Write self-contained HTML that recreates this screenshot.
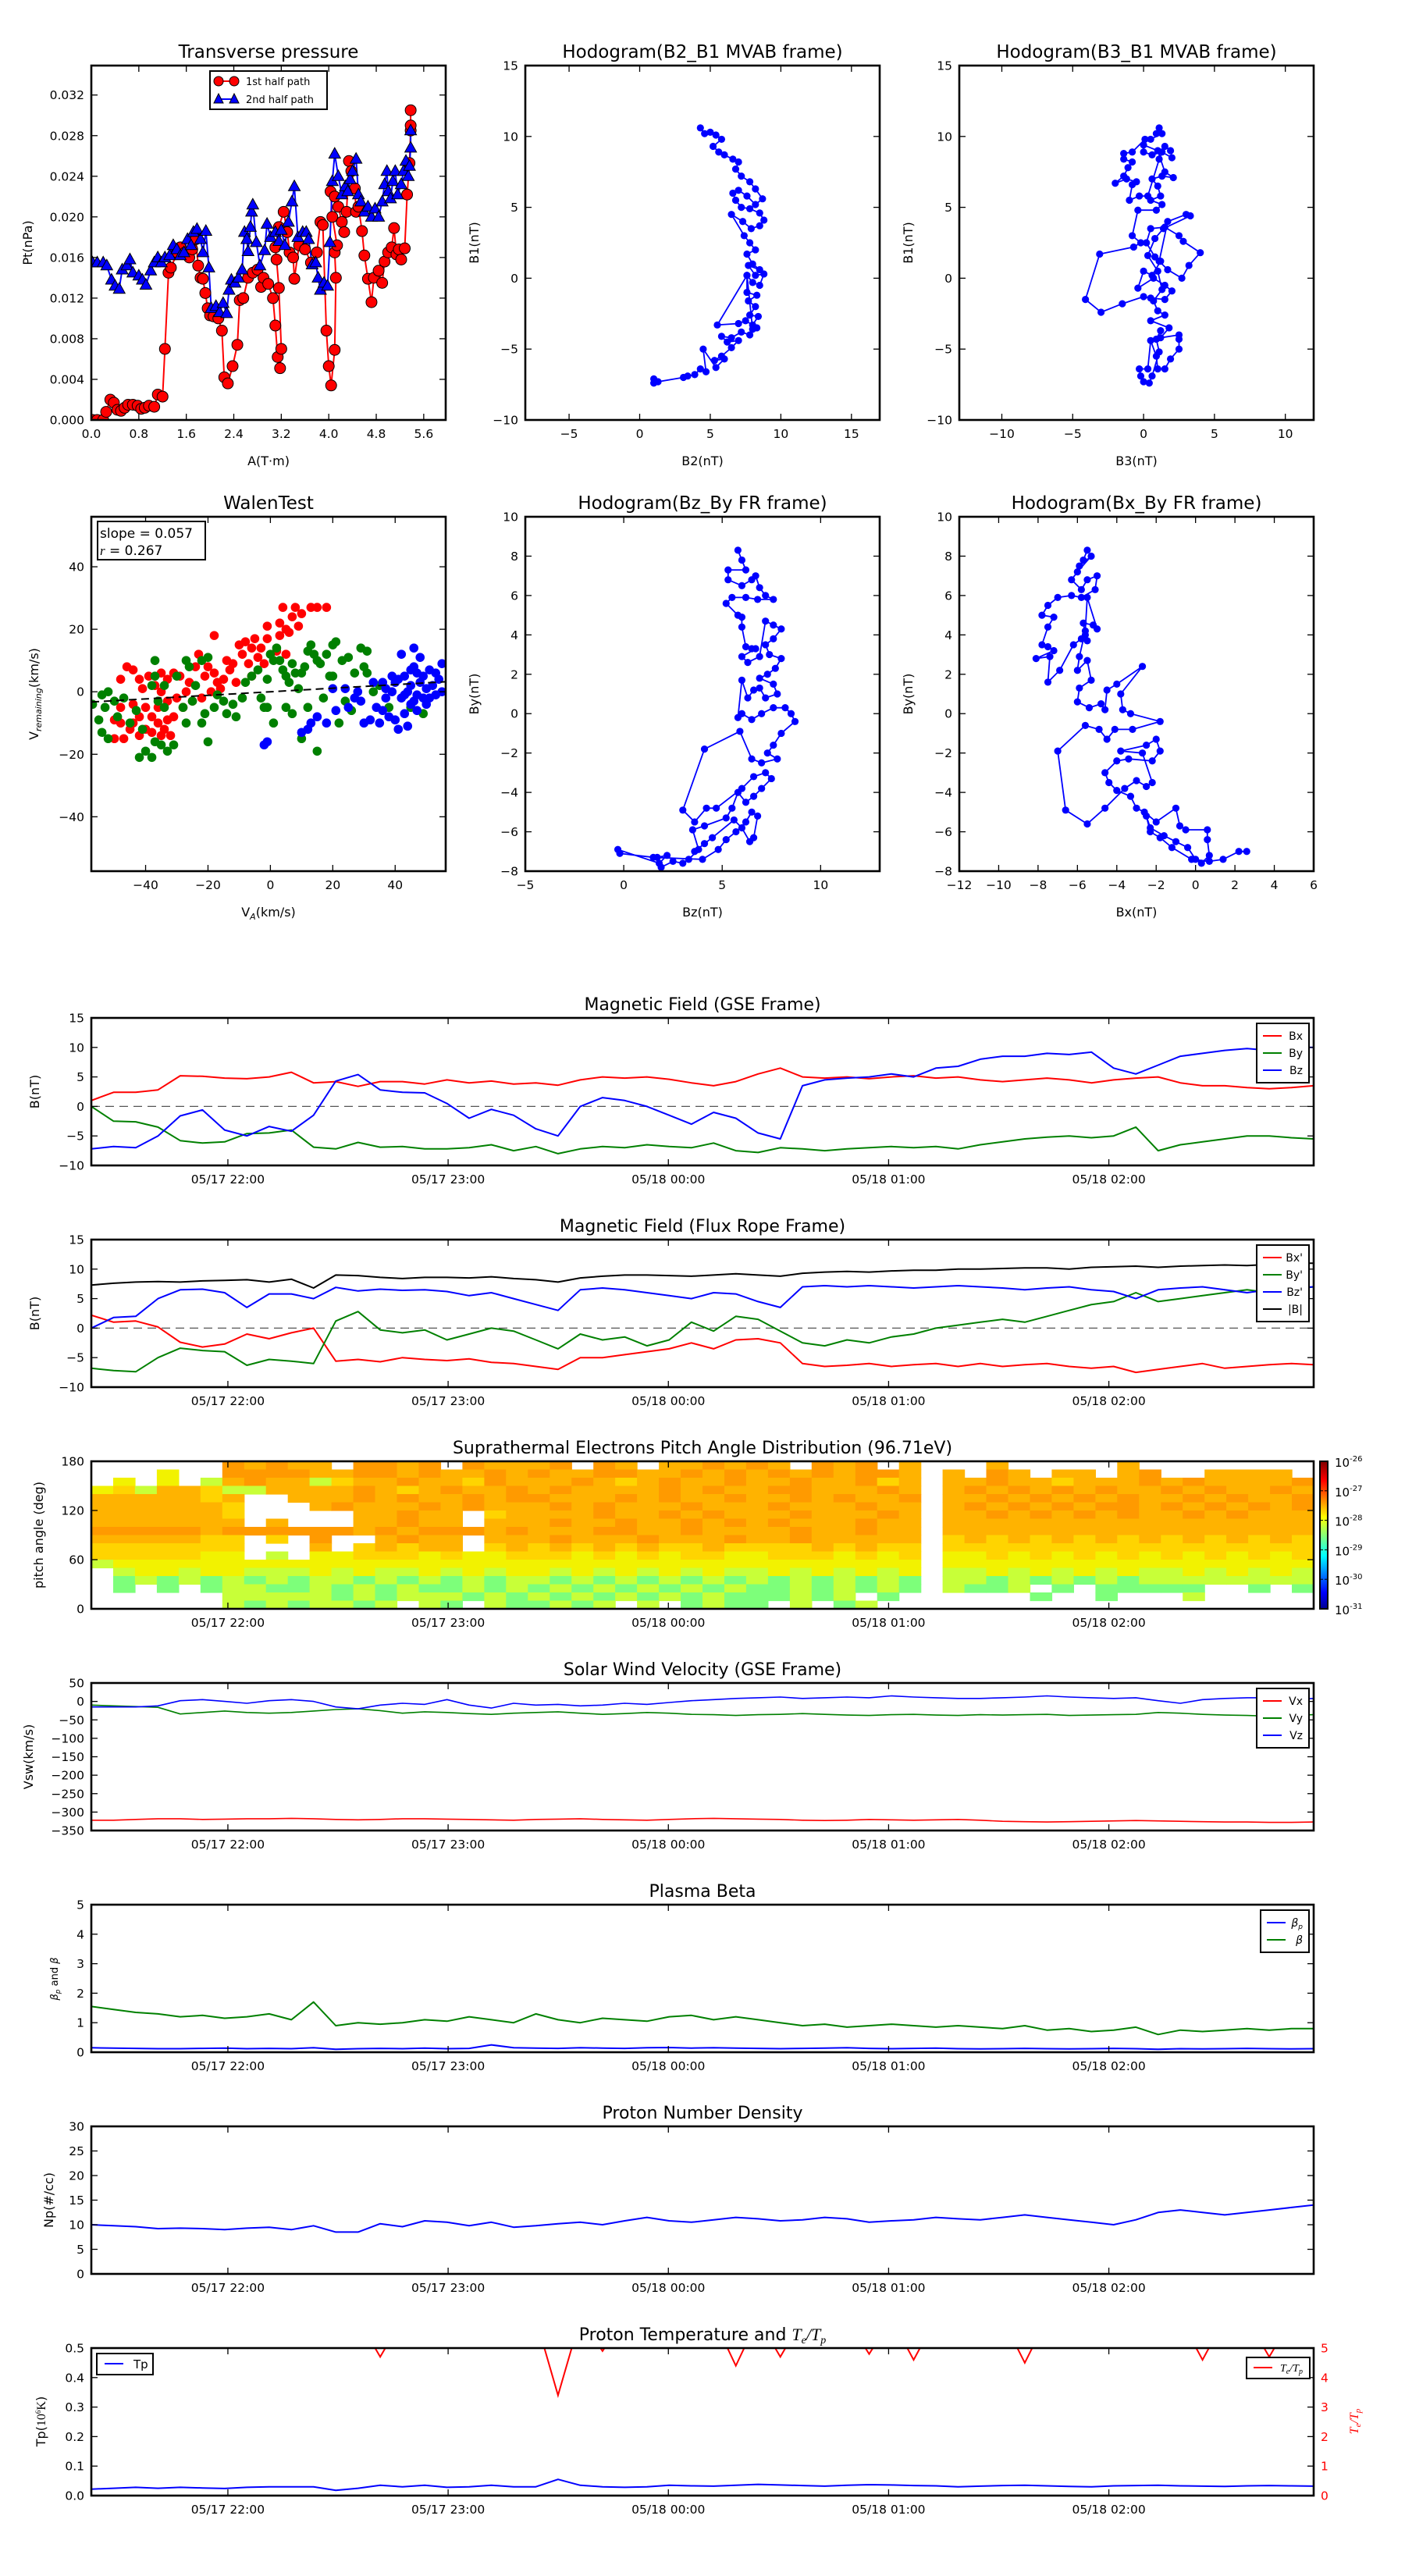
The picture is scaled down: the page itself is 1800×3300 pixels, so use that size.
<!DOCTYPE html>
<html><head><meta charset="utf-8"><title>Flux rope analysis</title>
<style>
html,body{margin:0;padding:0;background:#fff;}
svg{display:block;font-family:"DejaVu Sans","Liberation Sans",sans-serif;}
</style></head>
<body>
<svg id="fig" xmlns="http://www.w3.org/2000/svg" width="1800" height="3300" viewBox="0 0 1800 3300">
<defs>
<linearGradient id="jet" x1="0" y1="1" x2="0" y2="0">
<stop offset="0" stop-color="#00008f"/><stop offset="0.11" stop-color="#0000ff"/><stop offset="0.36" stop-color="#00ffff"/><stop offset="0.62" stop-color="#ffff00"/><stop offset="0.87" stop-color="#ff0000"/><stop offset="1" stop-color="#800000"/>
</linearGradient>
</defs>
</svg>
<script>
// ---------------- DATA ----------------
const ptA1=[0.02,0.1,0.2,0.25,0.32,0.38,0.44,0.5,0.56,0.62,0.7,0.78,0.84,0.9,0.97,1.06,1.12,1.2,1.24,1.3,1.34,1.45,1.5,1.58,1.65,1.7,1.76,1.8,1.84,1.88,1.92,1.96,2.0,2.06,2.14,2.2,2.24,2.3,2.38,2.46,2.5,2.56,2.64,2.72,2.8,2.86,2.9,2.98,3.06,3.1,3.14,3.18,3.2,3.16,3.12,3.1,3.16,3.24,3.3,3.34,3.4,3.42,3.5,3.6,3.7,3.8,3.86,3.9,3.96,4.0,4.04,4.1,4.12,4.1,4.14,4.06,4.03,4.1,4.16,4.22,4.26,4.3,4.34,4.38,4.44,4.46,4.5,4.56,4.6,4.66,4.72,4.76,4.84,4.9,4.94,5.0,5.06,5.1,5.14,5.18,5.22,5.28,5.32,5.36,5.38,5.38,5.38];
const ptP1=[0,0,0,0.0008,0.002,0.0017,0.001,0.0009,0.0012,0.0015,0.0015,0.0014,0.0011,0.0012,0.0014,0.0013,0.0025,0.0023,0.007,0.0145,0.015,0.0165,0.017,0.0165,0.016,0.0168,0.0178,0.0152,0.014,0.0139,0.0125,0.011,0.0103,0.0102,0.01,0.0088,0.0042,0.0036,0.0053,0.0074,0.0118,0.012,0.014,0.0145,0.0148,0.0131,0.014,0.0134,0.012,0.0093,0.0062,0.0051,0.007,0.013,0.0158,0.017,0.019,0.0205,0.0185,0.0165,0.016,0.0139,0.0172,0.0168,0.0155,0.0165,0.0195,0.0192,0.0088,0.0053,0.0034,0.0069,0.014,0.0165,0.0172,0.02,0.0225,0.022,0.021,0.0195,0.0185,0.0205,0.0255,0.0245,0.0228,0.0205,0.021,0.0186,0.0162,0.0139,0.0116,0.014,0.0147,0.0135,0.0156,0.0165,0.017,0.0189,0.0163,0.0168,0.0158,0.0169,0.0222,0.0253,0.0285,0.029,0.0305];
const ptA2=[0.02,0.1,0.2,0.26,0.34,0.4,0.47,0.52,0.6,0.65,0.7,0.8,0.86,0.92,1.0,1.06,1.12,1.18,1.24,1.32,1.38,1.44,1.5,1.56,1.62,1.68,1.72,1.78,1.84,1.88,1.93,1.98,2.02,2.1,2.16,2.22,2.28,2.32,2.36,2.42,2.48,2.54,2.58,2.62,2.64,2.68,2.7,2.72,2.78,2.84,2.92,2.96,3.02,3.1,3.16,3.2,3.26,3.32,3.38,3.42,3.48,3.56,3.62,3.66,3.72,3.78,3.82,3.86,3.92,3.98,4.02,4.06,4.1,4.16,4.22,4.28,4.32,4.36,4.4,4.46,4.5,4.54,4.6,4.66,4.72,4.78,4.84,4.9,4.94,4.98,5.0,5.04,5.08,5.12,5.16,5.22,5.26,5.3,5.34,5.36,5.38,5.38];
const ptP2=[0.0155,0.0155,0.0155,0.0152,0.0138,0.0132,0.0129,0.0148,0.0152,0.0158,0.0145,0.0142,0.0138,0.0133,0.0147,0.0155,0.016,0.0155,0.016,0.0162,0.0172,0.0168,0.0162,0.0165,0.0178,0.0172,0.0185,0.0188,0.0178,0.0165,0.0186,0.015,0.011,0.0112,0.0106,0.0115,0.0105,0.0128,0.0138,0.0135,0.014,0.0148,0.0185,0.0178,0.0166,0.019,0.0205,0.0212,0.0175,0.0152,0.0167,0.0193,0.018,0.0185,0.0176,0.0187,0.0172,0.0195,0.0215,0.023,0.018,0.0185,0.0185,0.0178,0.0153,0.0155,0.014,0.0128,0.0135,0.0132,0.0175,0.0235,0.0262,0.024,0.0222,0.023,0.0225,0.0237,0.0245,0.0257,0.0222,0.0215,0.0205,0.021,0.02,0.0208,0.02,0.0215,0.0232,0.0245,0.0225,0.0218,0.0235,0.0245,0.0222,0.0232,0.0245,0.0255,0.024,0.025,0.0268,0.0285];
const h1B2=[4.3,4.6,5,5.4,5.8,5.2,5.6,6,6.6,7,6.8,7.2,7.8,8.2,8.7,8.2,7.6,7,6.6,6.8,7.2,7.8,8.5,8.8,8.5,7.9,7.3,6.5,7.4,7.8,8.2,7.6,8.0,8.5,7.7,8.2,8.8,8.5,8.0,7.6,7.6,8.3,7.7,8.2,7.8,8.4,8.0,7.5,7.0,5.5,7.6,8.0,8.3,7.8,7.2,6.5,5.8,6.2,7.0,6.5,5.8,5.3,6.0,5.4,4.5,4.7,4.3,3.9,3.4,3.1,1.3,1.0,1.0];
const h1B1=[10.6,10.2,10.3,10.1,9.8,9.3,8.9,8.7,8.4,8.2,7.7,7.2,6.8,6.3,5.6,5.2,5.8,6.2,6.0,5.5,5.0,4.9,4.6,4.1,3.7,3.5,4.0,4.5,3.0,2.5,2.0,1.7,1.0,0.6,0.9,0.2,0.3,-0.5,-0.3,0.2,-1.0,-1.2,-1.6,-2.0,-2.6,-2.7,-3.3,-3.0,-3.2,-3.3,0.2,-3.6,-3.5,-4.0,-3.8,-4.2,-4.1,-4.5,-4.4,-4.9,-5.5,-5.8,-5.7,-6.3,-5.0,-6.6,-6.4,-6.8,-6.9,-7.0,-7.3,-7.1,-7.4];
const h2B3=[1.1,0.9,1.3,0.5,0.1,-0.8,-1.4,-1.4,-0.8,-1.1,-1.4,-2,-1.2,-0.5,-0.8,-1,-0.3,0.3,1.1,1.5,1.9,2.0,1.3,0.6,0,0,1.0,1.5,2.1,1.3,0.6,1.0,1.2,0.5,1.3,0.9,-0.4,-0.8,-0.2,-0.7,-3.1,-4.1,-3,-1.5,0,0.5,1.5,2,1.5,0.7,-0.4,0,0.6,1.2,0.8,0.2,0.5,1.5,2.5,2.8,4,3.2,2.7,1.7,1.1,1.7,3.0,3.3,1.4,0.8,0.3,1.0,1.3,0.7,1.0,1.5,0.5,1.8,1.2,2.5,2.5,2.5,1.9,1.5,1.0,0.9,0.5,0.3,-0.3,-0.2,0,0.4,0.6,1.1,0.9,1.2];
const h2B1=[10.6,10.2,10.2,9.8,9.8,8.9,8.8,8.4,8.2,7.8,7.2,6.7,7.0,6.8,6.6,5.5,5.8,5.8,8.4,9.3,9.0,8.5,8.9,8.7,8.9,9.4,9.0,7.5,7.1,7.2,7.0,6.5,5.8,5.5,5.2,4.8,4.8,3.0,2.5,2.2,1.7,-1.5,-2.4,-1.8,-1.3,-1.4,-1.5,-0.9,-0.5,0,-0.7,0.5,0.2,1.2,1.5,2.5,3.5,3.6,3.0,2.6,1.8,0.9,0,0.6,1.2,4.0,4.5,4.4,3.5,2.8,1.6,0.5,-0.8,-1.6,-2.3,-2.6,-3.0,-3.5,-4.2,-4.0,-4.3,-5.0,-5.7,-6.4,-6.4,-5.5,-4.4,-6.4,-6.4,-6.9,-7.3,-7.4,-6.9,-5.2,-4.3,-3.7];
const walRedVA=[-50,-47,-45,-48,-44,-42,-40,-38,-36,-34,-33,-35,-32,-31,-38,-40,-36,-33,-35,-37,-33,-31,-35,-39,-42,-44,-46,-48,-41,-44,-48,-50,-42,-30,-27,-26,-24,-23,-21,-20,-18,-17,-19,-22,-25,-15,-13,-12,-10,-9,-8,-6,-5,-7,-4,-11,-18,-3,-2,-1,-1,2,3,3,4,5,6,7,8,9,10,13,15,18,5,-6,-14,-16,-28,-29];
const walRedVR=[-15,-15,-12,-10,-10,-8,-12,-13,-10,-12,-9,-14,-14,-8,-8,-5,-5,-3,0,2,4,6,6,5,4,7,8,4,1,-4,-5,-9,-14,-2,0,3,8,12,5,8,6,3,0,-2,-3,4,7,9,15,12,16,14,17,9,11,3,18,14,9,17,21,13,18,22,27,20,19,24,27,21,25,27,27,27,12,5,10,1,-5,5];
const walGrnVA=[-57,-54,-52,-50,-53,-55,-54,-52,-49,-47,-45,-43,-41,-42,-40,-38,-37,-35,-33,-31,-34,-36,-38,-37,-37,-34,-30,-28,-27,-25,-24,-26,-27,-22,-20,-21,-20,-22,-18,-17,-15,-14,-12,-11,-9,-8,-6,-4,-3,-2,-1,0,1,2,3,4,5,6,7,8,9,10,11,12,13,14,15,16,18,20,21,19,17,15,12,10,7,5,1,-1,22,23,25,27,29,31,30,31,26,24,33,38,45,49,35,20];
const walGrnVR=[-4,-1,0,-3,-5,-9,-13,-15,-8,-2,-10,-6,-12,-21,-19,-21,-16,-17,-19,-17,-5,-3,2,10,5,2,5,-5,-10,-3,2,8,10,10,11,-7,-16,-10,-5,-1,-3,-7,-4,-8,-2,3,5,7,-2,-5,4,12,10,14,10,7,5,3,9,6,1,6,8,13,15,12,10,9,12,15,16,5,-2,-19,-5,-15,-7,-5,-10,-5,-10,10,11,6,14,13,8,6,-6,-3,0,-5,-5,-7,2,5];
const walBluVA=[-2,-1,10,12,13,15,18,20,21,24,25,27,28,29,30,32,33,34,35,36,37,38,39,40,40,41,42,42,43,43,44,44,45,45,46,46,46,47,47,48,48,49,49,50,50,51,52,53,54,55,55,53,41,39,37,43,45,47,51,36];
const walBluVR=[-17,-16,-13,-12,-10,-8,-10,1,-6,1,-5,-2,0,-3,-10,-9,3,-5,-10,-6,-2,-8,0,-9,3,-12,12,-2,5,-7,-11,0,2,-4,14,8,-3,6,-1,11,3,-2,5,1,-4,7,2,-1,4,9,0,6,4,5,1,-1,7,-6,-2,3];
const walenSlope=0.057;
const h3Bz=[5.8,6,6.2,5.3,5.3,6,6.5,6.7,6.9,7.2,7.6,6.8,6.2,5.5,5.2,5.8,6,6,6.2,6.5,6.7,6.0,6.3,6.9,7.2,7.6,8,7.6,7.2,7.4,8,7.7,7.3,6.9,7.6,7.8,7.2,6.9,6.6,6.3,6.0,5.8,6.0,6.5,7.0,7.6,8.2,8.5,8.7,8,7.6,7.3,7.8,7.0,6.5,5.9,4.1,3.0,3.6,4.2,4.7,6,6.6,7.2,7.5,7.0,6.6,6.2,5.8,5.5,5.2,4.1,3.5,3.8,3.3,3.0,2.5,1.9,1.7,2.2,1.8,-0.3,-0.2,1.5,4.0,4.8,5.2,5.7,6.2,6.5,6.8,6.6,6.4,6.0,5.6,4.5,4.1,3.6];
const h3By=[8.3,7.8,7.3,7.3,6.8,6.5,6.8,7.0,6.4,6.0,5.8,5.8,5.9,5.9,5.6,5,4.9,4.4,3.4,3.3,3.3,2.9,2.6,2.9,4.7,4.5,4.3,3.8,3.5,3.0,2.8,2.3,2.0,1.8,1.5,1.0,0.8,1.3,1.2,0.8,1.7,-0.2,0,-0.3,0,0.3,0.3,0,-0.4,-1,-1.6,-2,-2.3,-2.5,-2.3,-0.9,-1.8,-4.9,-5.5,-4.8,-4.8,-3.8,-3.2,-3.0,-3.3,-3.8,-4.2,-4.5,-4.0,-4.8,-5.3,-5.7,-5.9,-6.9,-7.4,-7.6,-7.5,-7.8,-7.3,-7.2,-7.6,-6.9,-7.1,-7.3,-7.4,-6.9,-6.4,-6.0,-5.5,-5.0,-5.2,-6.3,-6.5,-5.8,-5.4,-6.3,-6.6,-7];
const h4Bx=[-5.5,-5.7,-5.9,-5.3,-6.0,-6.3,-5.8,-5.5,-5.0,-5.1,-5.8,-6.3,-7.0,-7.5,-7.8,-7.2,-7.5,-7.8,-7.5,-7.2,-8.1,-7.4,-7.5,-6.9,-6.2,-5.8,-5.5,-5.6,-5.7,-5.2,-5.0,-5.5,-5.6,-5.9,-6.0,-5.5,-5.3,-5.9,-6.0,-5.4,-4.8,-4.6,-4.5,-4.0,-2.7,-3.8,-3.7,-3.3,-1.8,-3.2,-4.1,-4.5,-4.9,-5.6,-7.0,-6.6,-5.5,-4.6,-3.6,-3.0,-2.5,-2.2,-2.7,-3.8,-2.5,-2,-1.8,-2.2,-3.4,-4.0,-4.6,-4.4,-4.0,-3.3,-3.0,-2.6,-2.0,-1.0,-0.8,-0.5,0.6,0.6,0.7,0.3,0,-0.4,-1.0,-1.6,-2.3,-2.5,-2.3,-1.8,-1.2,-0.2,0.7,1.4,2.2,2.6];
const h4By=[8.3,7.8,7.5,8.0,7.2,6.8,6.3,6.8,7.0,6.3,5.9,6.0,5.9,5.5,5.0,4.9,4.4,3.5,3.4,3.2,2.8,2.9,1.6,2.2,3.5,3.8,3.7,4.0,4.6,4.5,4.3,5.9,4.2,2.9,2.2,2.7,1.7,1.3,0.6,0.3,0.5,0.2,1.2,1.5,2.4,1.0,0.2,0,-0.4,-0.8,-0.8,-1.3,-0.8,-0.6,-1.9,-4.9,-5.6,-4.8,-3.8,-3.4,-3.7,-3.5,-2.0,-1.9,-1.6,-1.3,-1.9,-2.4,-2.3,-2.4,-3.0,-3.5,-3.9,-4.2,-4.8,-5.0,-5.5,-4.8,-5.7,-5.9,-5.9,-6.4,-7.2,-7.6,-7.4,-6.8,-6.5,-6.2,-5.8,-5.2,-6.0,-6.3,-6.8,-7.4,-7.5,-7.4,-7.0,-7.0];
const timeStart=-0.62, timeEnd=4.93;
const timeTickVals=[0,1,2,3,4];
const timeTickLabels=["05/17 22:00","05/17 23:00","05/18 00:00","05/18 01:00","05/18 02:00"];
const gseBx=[1,2.4,2.4,2.8,5.2,5.1,4.8,4.7,5.0,5.8,4.0,4.2,3.4,4.2,4.2,3.8,4.5,4.0,4.3,3.8,4.0,3.6,4.5,5.0,4.8,5.0,4.6,4.0,3.5,4.2,5.5,6.5,5.0,4.8,5.0,4.7,5.0,5.2,4.8,5.0,4.5,4.2,4.5,4.8,4.5,4.0,4.5,4.8,5.0,4.0,3.5,3.5,3.2,3.0,3.2,3.5];
const gseBy=[0,-2.5,-2.6,-3.5,-5.8,-6.2,-6.0,-4.6,-4.5,-4.0,-6.9,-7.2,-6.1,-6.9,-6.8,-7.2,-7.2,-7.0,-6.5,-7.5,-6.8,-8.0,-7.2,-6.8,-7.0,-6.5,-6.8,-7.0,-6.2,-7.5,-7.8,-7.0,-7.2,-7.5,-7.2,-7.0,-6.8,-7.0,-6.8,-7.2,-6.5,-6.0,-5.5,-5.2,-5.0,-5.3,-5.0,-3.5,-7.5,-6.5,-6.0,-5.5,-5.0,-5.0,-5.3,-5.5];
const gseBz=[-7.2,-6.8,-7.0,-5.0,-1.6,-0.6,-4.0,-5.0,-3.4,-4.2,-1.5,4.3,5.4,2.8,2.4,2.3,0.5,-2,-0.5,-1.5,-3.8,-5,0,1.5,1,0,-1.5,-3,-1,-2,-4.5,-5.5,3.5,4.5,4.8,5.0,5.5,5.0,6.5,6.8,8.0,8.5,8.5,9.0,8.8,9.2,6.5,5.5,7.0,8.5,9.0,9.5,9.8,9.5,10,10];
const frBx=[2.2,1.0,1.2,0.2,-2.4,-3.2,-2.7,-1.0,-1.8,-0.8,0.0,-5.6,-5.3,-5.7,-5.0,-5.3,-5.5,-5.2,-5.8,-6.0,-6.5,-7.0,-5.0,-5.0,-4.5,-4.0,-3.5,-2.5,-3.5,-2.0,-1.8,-2.5,-6.0,-6.5,-6.3,-6.0,-6.5,-6.2,-6.0,-6.5,-6.0,-6.5,-6.2,-6.0,-6.5,-6.8,-6.5,-7.5,-7.0,-6.5,-6.0,-6.8,-6.5,-6.2,-6.0,-6.2];
const frBy=[-6.8,-7.2,-7.4,-5.0,-3.4,-3.8,-4.0,-6.3,-5.3,-5.6,-6.0,1.2,2.8,-0.3,-0.8,-0.3,-2.0,-1.0,0.0,-0.5,-2.0,-3.5,-1.0,-2.0,-1.5,-3.0,-2.0,1.0,-0.5,2.0,1.5,-0.5,-2.5,-3.0,-2.0,-2.5,-1.5,-1.0,0.0,0.5,1.0,1.5,1.0,2.0,3.0,4.0,4.5,6.0,4.5,5.0,5.5,6.0,6.5,6.0,6.5,7.0];
const frBz=[0,1.8,2.0,5.0,6.5,6.6,6.0,3.5,5.8,5.8,5.0,6.9,6.3,6.6,6.4,6.5,6.2,5.5,6.0,5.0,4.0,3.0,6.5,6.8,6.5,6.0,5.5,5.0,6.0,5.8,4.5,3.5,7.0,7.2,7.0,7.2,7.0,6.8,7.0,7.2,7.0,6.8,6.5,6.8,7.0,6.5,6.2,5.0,6.5,6.8,7.0,6.5,6.0,6.5,6.8,7.0];
const frBt=[7.3,7.6,7.8,7.9,7.8,8.0,8.1,8.2,7.8,8.3,6.8,9.0,8.9,8.6,8.4,8.6,8.6,8.5,8.7,8.4,8.2,7.8,8.5,8.8,9.0,9.0,8.9,8.8,9.0,9.2,9.0,8.8,9.3,9.5,9.6,9.5,9.7,9.8,9.8,10.0,10.0,10.1,10.2,10.2,10.0,10.3,10.4,10.5,10.3,10.5,10.6,10.7,10.6,10.8,11.0,11.0];
// PAD rows, top (170-180 deg) to bottom (0-10 deg); segments of column widths 6,4,10,10,9,17; chars are colour levels
const padRows=[
["      ","7676","6 7767 766","67 76 6676","76 767 6 ","  6     6        "],
["   4  ","7777","6677676676","7667766767","67676776 ","6 76 66 67  6666 "],
[" 4 4 3","6766","3566766576","6676567667","66766756 ","66766566676766667"],
["453665","3366","6676567667","6766667676","67766676 ","67676767667676676"],
["666665","6  6","6676766767","7666767667","66767667 ","66767676766767667"],
["666666","5   ","6766676766","6767666766","67666766 ","67676767767676767"],
["666666","5   ","  66766 56","6667667676","66766676 ","66767676766767666"],
["666666","6 6 ","  66766 66","6766766767","67666766 ","66666666666666666"],
["777776","7777","7767677767","6667766766","66766766 ","66666666666666666"],
["666665","5 5 ","7  6766 66","6766676667","66766666 ","56565656565656565"],
["555555","5   ","6 56566 56","5656565565","55565655 ","55555555555555555"],
["555554","4 3 ","4455545445","5545454554","45554545 ","44545454545454545"],
["344444","4444","4444444444","4444444444","44444444 ","44444444444444444"],
[" 34434","4333","4343343434","4343434343","34343434 ","33434343433434343"],
[" 23232","3232","3323232323","3232323232","32323232 ","33232323233333333"],
[" 2 2 2","3322","3232322323","2323232323","22323232 ","3223 2 22222  2 2"],
["      ","3333","3232333232","3232323232","22323 2  ","    2  2   3     "],
["      ","3232","3323 32 32","2323 3 232","2 3 23   ","                 "]];
const padSegWidths=[6,4,10,10,9,17];
const padLevelColors={'2':'#7dff7a','3':'#c8ff38','4':'#f2f200','5':'#ffd400','6':'#ffb300','7':'#ff9a00'};
const cbarTickExps=[-26,-27,-28,-29,-30,-31];
const vswVx=[-322,-322,-320,-318,-318,-320,-319,-318,-318,-317,-318,-320,-321,-320,-318,-318,-319,-320,-321,-322,-320,-319,-318,-320,-321,-322,-320,-318,-317,-318,-319,-320,-322,-323,-322,-320,-321,-322,-321,-320,-322,-325,-326,-327,-326,-325,-324,-323,-324,-325,-326,-327,-327,-328,-328,-327];
const vswVy=[-10,-12,-14,-16,-34,-30,-26,-30,-32,-30,-26,-22,-20,-25,-32,-28,-30,-33,-35,-32,-30,-28,-32,-35,-33,-30,-32,-35,-36,-38,-36,-35,-33,-35,-37,-38,-36,-35,-37,-38,-36,-37,-36,-35,-38,-37,-36,-35,-30,-32,-35,-37,-38,-40,-38,-36];
const vswVz=[-15,-15,-15,-12,2,5,0,-5,2,5,0,-15,-20,-10,-5,-8,5,-10,-18,-5,-10,-8,-12,-10,-5,-8,-3,2,5,8,10,12,8,10,12,10,15,12,10,8,8,10,12,15,12,10,8,10,2,-5,5,8,10,10,5,8];
const betaP=[0.15,0.14,0.13,0.12,0.12,0.13,0.14,0.12,0.13,0.12,0.15,0.1,0.12,0.13,0.12,0.14,0.12,0.13,0.25,0.15,0.14,0.13,0.15,0.14,0.13,0.15,0.16,0.14,0.15,0.14,0.13,0.12,0.13,0.14,0.15,0.13,0.12,0.13,0.14,0.12,0.11,0.12,0.13,0.12,0.11,0.12,0.13,0.12,0.1,0.12,0.11,0.12,0.13,0.12,0.11,0.12];
const betaAll=[1.55,1.45,1.35,1.3,1.2,1.25,1.15,1.2,1.3,1.1,1.7,0.9,1.0,0.95,1.0,1.1,1.05,1.2,1.1,1.0,1.3,1.1,1.0,1.15,1.1,1.05,1.2,1.25,1.1,1.2,1.1,1.0,0.9,0.95,0.85,0.9,0.95,0.9,0.85,0.9,0.85,0.8,0.9,0.75,0.8,0.7,0.75,0.85,0.6,0.75,0.7,0.75,0.8,0.75,0.8,0.8];
const npDens=[10,9.8,9.6,9.2,9.3,9.2,9.0,9.3,9.5,9.0,9.8,8.5,8.5,10.2,9.6,10.8,10.5,9.8,10.5,9.5,9.8,10.2,10.5,10.0,10.8,11.5,10.8,10.5,11.0,11.5,11.2,10.8,11.0,11.5,11.2,10.5,10.8,11.0,11.5,11.2,11.0,11.5,12.0,11.5,11.0,10.5,10.0,11.0,12.5,13.0,12.5,12.0,12.5,13.0,13.5,14.0];
const tpTemp=[0.022,0.025,0.028,0.025,0.028,0.026,0.024,0.028,0.03,0.03,0.03,0.018,0.025,0.035,0.03,0.035,0.028,0.03,0.035,0.03,0.03,0.055,0.035,0.03,0.028,0.03,0.035,0.033,0.032,0.035,0.038,0.036,0.034,0.032,0.035,0.037,0.036,0.034,0.033,0.03,0.032,0.034,0.035,0.033,0.031,0.03,0.033,0.034,0.035,0.033,0.032,0.031,0.033,0.034,0.033,0.032];
const teTpRatio=[6,6,6,6,6,6,6,6,6,6,6,6,6,4.7,6,6,6,6,6,6,6,3.4,6,4.9,6,6,6,6,6,4.4,6,4.7,6,6,6,4.8,6,4.6,6,6,6,6,4.5,6,6,6,6,6,6,6,4.6,6,6,4.7,6,6];

// ---------------- DRAWING ----------------
const NS='http://www.w3.org/2000/svg';
const svg=document.getElementById('fig');
function mk(tag,attrs,parent){const e=document.createElementNS(NS,tag);for(const k in attrs)e.setAttribute(k,attrs[k]);(parent||svg).appendChild(e);return e;}
function fmtNum(v,d){const s=v.toFixed(d);return s.replace('-','\u2212');}
function txt(s,x,y,size,anchor,parent,extra){const t=mk('text',Object.assign({x:x,y:y,'font-size':size,'text-anchor':anchor||'middle',fill:'#000'},extra||{}),parent);t.textContent=s;return t;}

function axes(name,L,T,W,H,xd,yd,xt,xl,yt,yl,opt){
  opt=opt||{};
  const g=mk('g',{});
  
  
  const sx=v=>L+(v-xd[0])/(xd[1]-xd[0])*W;
  const sy=v=>T+H-(v-yd[0])/(yd[1]-yd[0])*H;
  const cp=mk('clipPath',{id:'clip-'+name},g);
  mk('rect',{x:L,y:T,width:W,height:H},cp);
  const plot=mk('g',{'clip-path':'url(#clip-'+name+')'},g);
  
  
  const tk=opt.tickSize||15.5;
  xt.forEach((v,i)=>{const x=sx(v);
    const a=mk('line',{x1:x,y1:T+H,x2:x,y2:T+H-8,stroke:'#000','stroke-width':1.3},g);
    
    
    const b=mk('line',{x1:x,y1:T,x2:x,y2:T+8,stroke:'#000','stroke-width':1.3},g);
    
    
    const t=txt(xl[i],x,T+H+23,tk,'middle',g);
    
    });
  yt.forEach((v,i)=>{const y=sy(v);
    const a=mk('line',{x1:L,y1:y,x2:L+8,y2:y,stroke:'#000','stroke-width':1.3},g);
    
    
    if(!opt.noRightTicks){const b=mk('line',{x1:L+W,y1:y,x2:L+W-8,y2:y,stroke:'#000','stroke-width':1.3},g);
    
    }
    const t=txt(yl[i],L-9,y+5.5,tk,'end',g);
    
    });
  const fr=mk('rect',{x:L,y:T,width:W,height:H,fill:'none',stroke:'#000','stroke-width':2.6},g);
  
  
  if(opt.title){const t=txt(opt.title,L+W/2,T-10,opt.titleSize||23,'middle',g);
    
    }
  if(opt.xlabel){const t=txt(opt.xlabel,L+W/2,T+H+58,16,'middle',g);
    
    }
  if(opt.ylabel){const yx=opt.ylabelX,yy=T+H/2;const t=txt(opt.ylabel,yx,yy,opt.ylabelSize||16,'middle',g,{transform:'rotate(-90 '+yx+' '+yy+')'});
    
    }
  return {g,plot,sx,sy};
}
function pathD(xs,ys,sx,sy){return xs.map((v,i)=>(i?'L':'M')+sx(v).toFixed(1)+' '+sy(ys[i]).toFixed(1)).join(' ');}
function range(a,b,s){const r=[];for(let v=a;v<=b+1e-9;v+=s)r.push(+v.toFixed(6));return r;}
function sampleTimes(n){const r=[];for(let i=0;i<n;i++)r.push(timeStart+i*(timeEnd-timeStart)/(n-1));return r;}

// ---- Transverse pressure ----
{
 const xt=range(0,5.6,0.8), yt=range(0,0.032,0.004);
 const A=axes('transverse-pressure',117,84,454,454,[0,5.97],[0,0.0349],xt,xt.map(v=>v.toFixed(1)),yt,yt.map(v=>v.toFixed(3)),{title:'Transverse pressure',xlabel:'A(T\u00b7m)',ylabel:'Pt(nPa)',ylabelX:41});
 const l1=mk('path',{d:pathD(ptA1,ptP1,A.sx,A.sy),fill:'none',stroke:'#ff0000','stroke-width':2},A.plot);
 
 
 const l2=mk('path',{d:pathD(ptA2,ptP2,A.sx,A.sy),fill:'none',stroke:'#0000ff','stroke-width':2},A.plot);
 
 
 ptA1.forEach((a,i)=>{const c=mk('circle',{cx:A.sx(a),cy:A.sy(ptP1[i]),r:7,fill:'#ff0000',stroke:'#000','stroke-width':1},A.plot);
  
  });
 ptA2.forEach((a,i)=>{const x=A.sx(a),y=A.sy(ptP2[i]);const p=mk('polygon',{points:`${x},${y-8} ${x-7.5},${y+5.5} ${x+7.5},${y+5.5}`,fill:'#0000ff',stroke:'#000','stroke-width':1},A.plot);
  
  });
 const lg=mk('g',{},A.g);
 
 
 mk('rect',{x:269,y:91,width:150,height:49,fill:'#fff',stroke:'#000','stroke-width':2},lg);
 mk('line',{x1:280,y1:104,x2:300,y2:104,stroke:'#ff0000','stroke-width':2},lg);
 mk('circle',{cx:280,cy:104,r:6,fill:'#ff0000',stroke:'#000'},lg);mk('circle',{cx:300,cy:104,r:6,fill:'#ff0000',stroke:'#000'},lg);
 txt('1st half path',315,109,13,'start',lg);
 mk('line',{x1:280,y1:127,x2:300,y2:127,stroke:'#0000ff','stroke-width':2},lg);
 mk('polygon',{points:'280,120 274,132 286,132',fill:'#0000ff',stroke:'#000'},lg);mk('polygon',{points:'300,120 294,132 306,132',fill:'#0000ff',stroke:'#000'},lg);
 txt('2nd half path',315,132,13,'start',lg);
}
function hodo(name,L,T,xd,yd,xt,yt,xs,ys,title,xlabel,ylabel){
 const A=axes(name,L,T,454,454,xd,yd,xt,xt.map(v=>fmtNum(v,0)),yt,yt.map(v=>fmtNum(v,0)),{title:title,xlabel:xlabel,ylabel:ylabel,ylabelX:L-60});
 const l=mk('path',{d:pathD(xs,ys,A.sx,A.sy),fill:'none',stroke:'#0000ff','stroke-width':1.8},A.plot);
 
 
 xs.forEach((v,i)=>{const c=mk('circle',{cx:A.sx(v),cy:A.sy(ys[i]),r:4.6,fill:'#0000ff'},A.plot);
  
  });
}
hodo('hodogram-b2-b1',673,84,[-8.1,17],[-10,15],range(-5,15,5),range(-10,15,5),h1B2,h1B1,'Hodogram(B2_B1 MVAB frame)','B2(nT)','B1(nT)');
hodo('hodogram-b3-b1',1229,84,[-13,12],[-10,15],range(-10,10,5),range(-10,15,5),h2B3,h2B1,'Hodogram(B3_B1 MVAB frame)','B3(nT)','B1(nT)');
hodo('hodogram-bz-by',673,662,[-5,13],[-8,10],range(-5,10,5),range(-8,10,2),h3Bz,h3By,'Hodogram(Bz_By FR frame)','Bz(nT)','By(nT)');
hodo('hodogram-bx-by',1229,662,[-12,6],[-8,10],range(-12,6,2),range(-8,10,2),h4Bx,h4By,'Hodogram(Bx_By FR frame)','Bx(nT)','By(nT)');

// ---- Walen test ----
{
 const xt=range(-40,40,20),yt=range(-40,40,20);
 const A=axes('walen-test',117,662,454,454,[-57.4,56.2],[-57.4,56],xt,xt.map(v=>fmtNum(v,0)),yt,yt.map(v=>fmtNum(v,0)),{title:'WalenTest'});
 [[walRedVA,walRedVR,'#ff0000','walen-red-point'],[walGrnVA,walGrnVR,'#008000','walen-green-point'],[walBluVA,walBluVR,'#0000ff','walen-blue-point']].forEach(s=>{
  s[0].forEach((v,i)=>{const c=mk('circle',{cx:A.sx(v),cy:A.sy(s[1][i]),r:5.8,fill:s[2]},A.plot);
   
   });});
 const fit=mk('line',{x1:A.sx(-57.4),y1:A.sy(-57.4*walenSlope),x2:A.sx(56.2),y2:A.sy(56.2*walenSlope),stroke:'#000','stroke-width':2,'stroke-dasharray':'10 6'},A.plot);
 
 
 const xl=mk('text',{x:344,y:1174,'font-size':16,'text-anchor':'middle'},A.g);
 
 
 xl.innerHTML='V<tspan font-size="11" font-style="italic" dy="4">A</tspan><tspan dy="-4">(km/s)</tspan>';
 const yl=mk('text',{x:49,y:889,'font-size':16,'text-anchor':'middle',transform:'rotate(-90 49 889)'},A.g);
 
 
 yl.innerHTML='V<tspan font-size="11" font-style="italic" dy="4">remaining</tspan><tspan dy="-4">(km/s)</tspan>';
 const bx=mk('g',{},A.g);
 
 
 mk('rect',{x:125,y:668,width:138,height:49,fill:'#fff',stroke:'#000','stroke-width':2},bx);
 txt('slope = '+walenSlope.toFixed(3),128,689,17,'start',bx);
 const r=mk('text',{x:128,y:711,'font-size':17},bx);r.innerHTML='<tspan font-style="italic" font-family="Liberation Serif,serif">r</tspan> = 0.267';
}

// ---- Time series panels ----
const TL=117,TW=1566,TH=189;
function tsAxes(name,T,yd,yt,yl,title,ylabel,ylx,opt){
 return axes(name,TL,T,TW,TH,[timeStart,timeEnd],yd,timeTickVals,timeTickLabels,yt,yl,Object.assign({title:title,titleSize:22,ylabel:ylabel,ylabelX:ylx},opt||{}));
}
function series(A,ys,color,name,w){
 const ts=sampleTimes(ys.length);
 const p=mk('path',{d:pathD(ts,ys,A.sx,A.sy),fill:'none',stroke:color,'stroke-width':w||2,'stroke-linejoin':'round'},A.plot);
 
 
 return p;
}
function zeroLine(A){const l=mk('line',{x1:TL,x2:TL+TW,y1:A.sy(0),y2:A.sy(0),stroke:'#555','stroke-width':1.3,'stroke-dasharray':'11 7'},A.plot);
 
 }
function legend(name,x,y,w,entries){
 const g=mk('g',{});
 
 
 mk('rect',{x:x,y:y,width:w,height:entries.length*22+10,fill:'#fff',stroke:'#000','stroke-width':2},g);
 entries.forEach((e,i)=>{const yy=y+16+i*22;
  mk('line',{x1:x+8,x2:x+32,y1:yy,y2:yy,stroke:e[1],'stroke-width':2},g);
  const t=mk('text',{x:x+w-8,y:yy+5,'font-size':14,'text-anchor':'end','font-style':e[2]?'italic':'normal',fill:'#000'},g);
  t.innerHTML=e[0];});
 return g;
}
const bT=range(-10,15,5), bL=bT.map(v=>fmtNum(v,0));
{
 const A=tsAxes('magnetic-field-gse',1304,[-10,15],bT,bL,'Magnetic Field (GSE Frame)','B(nT)',50);
 zeroLine(A);
 series(A,gseBx,'#ff0000','bx-gse-line');series(A,gseBy,'#008000','by-gse-line');series(A,gseBz,'#0000ff','bz-gse-line');
 legend('gse-legend',1610,1311,67,[['Bx','#ff0000'],['By','#008000'],['Bz','#0000ff']]);
}
{
 const A=tsAxes('magnetic-field-fr',1588,[-10,15],bT,bL,'Magnetic Field (Flux Rope Frame)','B(nT)',50);
 zeroLine(A);
 series(A,frBx,'#ff0000','bx-fr-line');series(A,frBy,'#008000','by-fr-line');series(A,frBz,'#0000ff','bz-fr-line');series(A,frBt,'#000000','btotal-fr-line');
 legend('fr-legend',1610,1595,67,[["Bx'",'#ff0000'],["By'",'#008000'],["Bz'",'#0000ff'],['|B|','#000']]);
}
{
 const yt=[0,60,120,180];
 const A=tsAxes('pitch-angle-distribution',1872,[0,180],yt,yt.map(String),'Suprathermal Electrons Pitch Angle Distribution (96.71eV)','pitch angle (deg)',55);
 const ncol=padSegWidths.reduce((a,b)=>a+b,0),dt=(timeEnd-timeStart)/ncol;
 padRows.forEach((segs,ri)=>{const row=segs.map((s,k)=>s.padEnd(padSegWidths[k],' ').slice(0,padSegWidths[k])).join('');
  const a0=180-(ri+1)*10;
  for(let c=0;c<ncol;c++){const ch=row[c];if(!padLevelColors[ch])continue;
   const x0=A.sx(timeStart+c*dt),x1=A.sx(timeStart+(c+1)*dt);
   const r=mk('rect',{x:x0.toFixed(1),y:A.sy(a0+10).toFixed(1),width:(x1-x0+0.6).toFixed(1),height:(A.sy(a0)-A.sy(a0+10)+0.6).toFixed(1),fill:padLevelColors[ch]},A.plot);
   
   }});
 const cb=mk('g',{});
 
 
 mk('rect',{x:1691,y:1872,width:10,height:189,fill:'url(#jet)',stroke:'#000','stroke-width':2},cb);
 cbarTickExps.forEach((e,i)=>{const y=1872+i*189/5;
  mk('line',{x1:1691,x2:1695,y1:y,y2:y,stroke:'#000'},cb);mk('line',{x1:1701,x2:1697,y1:y,y2:y,stroke:'#000'},cb);
  const t=mk('text',{x:1710,y:y+7,'font-size':15},cb);
  
  
  t.innerHTML='10<tspan font-size="10" dy="-7">'+String(e)+'</tspan>';});
}
{
 const yt=range(-350,50,50);
 const A=tsAxes('solar-wind-velocity',2156,[-350,50],yt,yt.map(v=>fmtNum(v,0)),'Solar Wind Velocity (GSE Frame)','Vsw(km/s)',42);
 series(A,vswVx,'#ff0000','vx-line',1.6);series(A,vswVy,'#008000','vy-line',1.6);series(A,vswVz,'#0000ff','vz-line',1.6);
 legend('velocity-legend',1610,2163,67,[['Vx','#ff0000'],['Vy','#008000'],['Vz','#0000ff']]);
}
{
 const yt=range(0,5,1);
 const A=tsAxes('plasma-beta',2440,[0,5],yt,yt.map(String),'Plasma Beta','',0);
 series(A,betaP,'#0000ff','beta-proton-line');series(A,betaAll,'#008000','beta-total-line');
 const yl=mk('text',{x:74,y:2535,'font-size':13,'text-anchor':'middle','font-style':'italic',transform:'rotate(-90 74 2535)'},A.g);
 
 
 yl.innerHTML='\u03b2<tspan font-size="9" dy="3">p</tspan><tspan dy="-3" font-style="normal"> and </tspan>\u03b2';
 legend('beta-legend',1615,2447,62,[['\u03b2<tspan font-size="9" dy="3">p</tspan>','#0000ff',1],['\u03b2','#008000',1]]);
}
{
 const yt=range(0,30,5);
 const A=tsAxes('proton-density',2724,[0,30],yt,yt.map(String),'Proton Number Density','Np(#/cc)',68);
 series(A,npDens,'#0000ff','proton-density-line');
}
{
 const yt=range(0,0.5,0.1);
 const A=tsAxes('proton-temperature',3008,[0,0.5],yt,yt.map(v=>v.toFixed(1)),'','',0,{noRightTicks:true});
 const tt=txt('',900,2998,22,'middle',A.g);
 
 
 tt.innerHTML='Proton Temperature and <tspan font-style="italic" font-family="Liberation Serif,serif">T<tspan font-size="14" dy="4">e</tspan><tspan dy="-4">/T</tspan><tspan font-size="14" dy="4">p</tspan></tspan>';
 series(A,tpTemp,'#0000ff','proton-temperature-line');
 const sy2=v=>3008+TH-v/5*TH;
 const ts=sampleTimes(teTpRatio.length);
 const rp=mk('path',{d:ts.map((t,i)=>(i?'L':'M')+A.sx(t).toFixed(1)+' '+sy2(teTpRatio[i]).toFixed(1)).join(' '),fill:'none',stroke:'#ff0000','stroke-width':2},A.plot);
 
 
 [0,1,2,3,4,5].forEach(v=>{const y=sy2(v);
  const l=mk('line',{x1:TL+TW,x2:TL+TW-8,y1:y,y2:y,stroke:'#000','stroke-width':1.3},A.g);
  
  
  const t=txt(String(v),TL+TW+9,y+5.5,15.5,'start',A.g,{fill:'#ff0000'});
  
  });
 const yl=mk('text',{x:58,y:3102,'font-size':16,'text-anchor':'middle',transform:'rotate(-90 58 3102)'},A.g);
 
 
 yl.innerHTML='Tp(<tspan font-family="Liberation Serif,serif">10<tspan font-size="9" dy="-6">6</tspan><tspan dy="6">K</tspan></tspan>)';
 const yr=mk('text',{x:1740,y:3102,'font-size':16,'text-anchor':'middle','font-style':'italic','font-family':'Liberation Serif,serif',fill:'#ff0000',transform:'rotate(-90 1740 3102)'},A.g);
 
 
 yr.innerHTML='T<tspan font-size="11" dy="3">e</tspan><tspan dy="-3">/T</tspan><tspan font-size="11" dy="3">p</tspan>';
 const lg1=mk('g',{});
 
 
 mk('rect',{x:124,y:3015,width:72,height:27,fill:'#fff',stroke:'#000','stroke-width':2},lg1);
 mk('line',{x1:134,x2:158,y1:3028,y2:3028,stroke:'#0000ff','stroke-width':2},lg1);
 txt('Tp',171,3034,15,'start',lg1);
 const lg2=mk('g',{});
 
 
 mk('rect',{x:1597,y:3020,width:81,height:27,fill:'#fff',stroke:'#000','stroke-width':2},lg2);
 mk('line',{x1:1606,x2:1630,y1:3033,y2:3033,stroke:'#ff0000','stroke-width':2},lg2);
 const lt=mk('text',{x:1640,y:3038,'font-size':14,'font-style':'italic','font-family':'Liberation Serif,serif'},lg2);
 lt.innerHTML='T<tspan font-size="10" dy="3">e</tspan><tspan dy="-3">/T</tspan><tspan font-size="10" dy="3">p</tspan>';
}
</script>
</body></html>
